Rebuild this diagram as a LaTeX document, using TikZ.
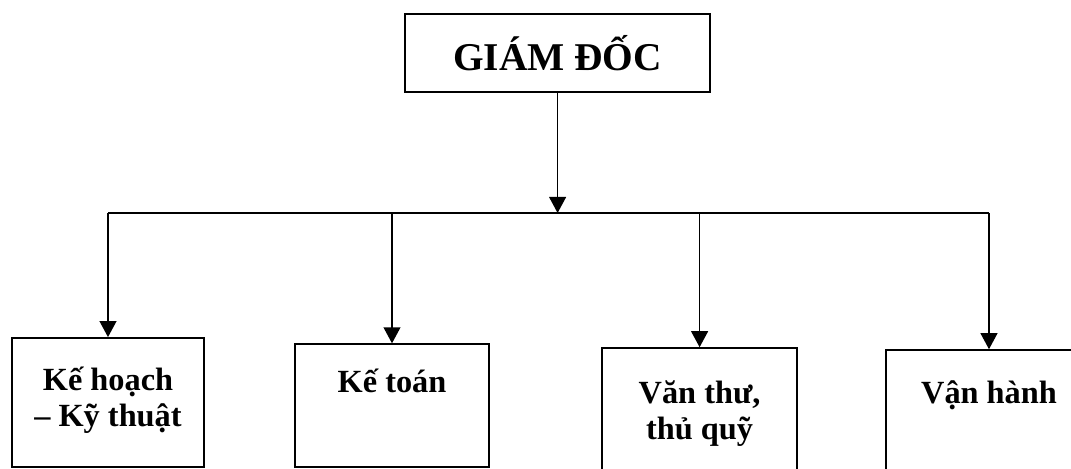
\documentclass[tikz,border=0pt]{standalone}
\usepackage{fontspec}
\setmainfont{Liberation Serif}
\usetikzlibrary{arrows.meta, positioning}

\begin{document}
\begin{tikzpicture}[>={Triangle[width=0.42cm, length=0.4cm]}, line width=1.1pt,
  box/.style={draw, rectangle, inner sep=0pt},
  lbl/.style={align=center, anchor=north, inner sep=0pt, font=\bfseries\fontsize{23}{25.5}\selectfont}]

\useasboundingbox (0,0) rectangle (26.775,-11.725);

\node[box, minimum width=7.625cm, minimum height=1.95cm, font=\bfseries\fontsize{28}{32}\selectfont] (GD) at (13.94,-1.325) {GIÁM ĐỐC};

\coordinate (bar) at (13.94,-5.325);

\node[box, minimum width=4.8cm, minimum height=3.225cm] (KH) at (2.7,-10.06) {};
\node[box, minimum width=4.85cm, minimum height=3.075cm] (KT) at (9.8,-10.14) {};
\node[box, minimum width=4.875cm, minimum height=3.3cm] (VT) at (17.49,-10.35) {};
\node[box, minimum width=5.15cm, minimum height=3.25cm] (VH) at (24.725,-10.375) {};

\node[lbl, below=0.72cm of KH.north] (KHt) {Kế hoạch\\– Kỹ thuật};
\node[lbl, below=0.62cm of KT.north] (KTt) {Kế toán};
\node[lbl, below=0.82cm of VT.north] (VTt) {Văn thư,\\thủ quỹ};
\node[lbl, below=0.78cm of VH.north] (VHt) {Vận hành};

\draw[->] (GD.south) -- (bar);
\draw[-] (KH.north |- bar) -- (VH.north |- bar);

\draw[->] (KH.north |- bar) -- (KH.north);
\draw[->] (KT.north |- bar) -- (KT.north);
\draw[->] (VT.north |- bar) -- (VT.north);
\draw[->] (VH.north |- bar) -- (VH.north);

\end{tikzpicture}
\end{document}
